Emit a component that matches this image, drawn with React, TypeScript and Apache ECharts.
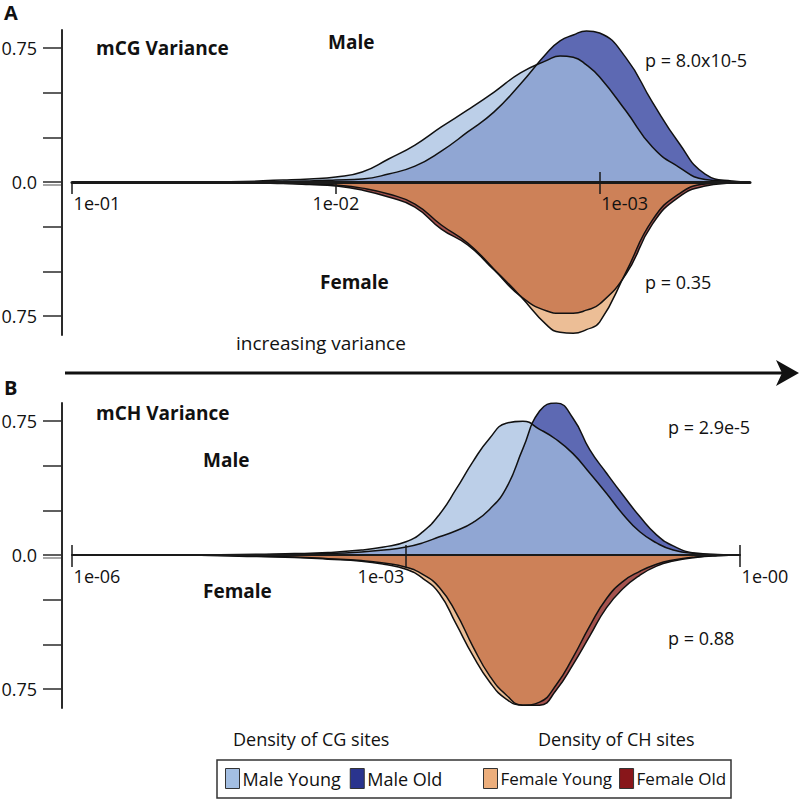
import React, { useEffect, useRef } from 'react';
import * as echarts from 'echarts';

const FONT = "'Open Sans', sans-serif";
const INK = '#111111';

// ---------- Panel A (mCG variance) : log10 of variance ----------
const logVarA = [-1.0, -1.3, -1.6, -1.8, -1.9, -2.0, -2.1, -2.2, -2.3, -2.4, -2.5, -2.6, -2.7, -2.8, -2.85, -2.9, -2.95, -3.0, -3.1, -3.2, -3.3, -3.4, -3.5, -3.57];
const maleYoungA = [0, 0, 0.002, 0.011, 0.017, 0.028, 0.056, 0.129, 0.207, 0.308, 0.403, 0.503, 0.61, 0.68, 0.705, 0.698, 0.655, 0.587, 0.397, 0.196, 0.084, 0.014, 0.003, 0];
const maleOldA = [0, 0, 0.001, 0.003, 0.006, 0.011, 0.017, 0.045, 0.089, 0.173, 0.28, 0.392, 0.548, 0.721, 0.789, 0.822, 0.845, 0.833, 0.694, 0.447, 0.22, 0.045, 0.006, 0];
const femaleYoungA = [0, 0, 0.001, 0.006, 0.011, 0.017, 0.034, 0.067, 0.123, 0.24, 0.341, 0.487, 0.638, 0.8, 0.84, 0.845, 0.825, 0.783, 0.503, 0.213, 0.067, 0.011, 0.003, 0];
const femaleOldA = [0, 0, 0.002, 0.008, 0.014, 0.022, 0.045, 0.084, 0.14, 0.263, 0.352, 0.492, 0.638, 0.721, 0.733, 0.733, 0.716, 0.682, 0.515, 0.235, 0.084, 0.022, 0.006, 0];

// ---------- Panel B (mCH variance) ----------
const logVarB = [-6, -5, -4.5, -4, -3.7, -3.4, -3.2, -3.0, -2.85, -2.7, -2.55, -2.4, -2.25, -2.1, -1.95, -1.8, -1.65, -1.5, -1.35, -1.2, -1.05, -0.9, -0.75, -0.6, -0.4, -0.2, 0];
const maleYoungB = [0, 0, 0.003, 0.008, 0.014, 0.028, 0.045, 0.074, 0.13, 0.227, 0.368, 0.521, 0.652, 0.737, 0.748, 0.703, 0.646, 0.567, 0.459, 0.346, 0.227, 0.13, 0.068, 0.028, 0.008, 0.002, 0];
const maleOldB = [0, 0, 0.001, 0.005, 0.008, 0.017, 0.028, 0.045, 0.068, 0.102, 0.136, 0.181, 0.255, 0.374, 0.595, 0.805, 0.85, 0.765, 0.589, 0.459, 0.334, 0.215, 0.113, 0.051, 0.011, 0.003, 0];
const femaleYoungB = [0, 0, 0.006, 0.014, 0.023, 0.034, 0.051, 0.079, 0.13, 0.215, 0.385, 0.561, 0.708, 0.805, 0.839, 0.822, 0.725, 0.572, 0.397, 0.244, 0.147, 0.091, 0.051, 0.028, 0.011, 0.003, 0];
const femaleOldB = [0, 0, 0.005, 0.011, 0.02, 0.031, 0.045, 0.068, 0.108, 0.181, 0.323, 0.51, 0.674, 0.782, 0.839, 0.839, 0.754, 0.612, 0.453, 0.295, 0.187, 0.113, 0.062, 0.034, 0.014, 0.004, 0];

// ---------- Ticks ----------
const xTicksA = [0.1, 0.01, 0.001];
const xTickLabelsA = ['{r|1e-01}', '{c|1e-02}', '{r|1e-03}'];
const xCrossTicksA = [0.001];
const xTicksB = [1e-6, 1e-3, 1];
const xTickLabelsB = ['{r|1e-06}', '{l|1e-03}', '{r|1e-00}'];
const yTicks = [-0.75, -0.5, -0.25, 0, 0.25, 0.5, 0.75];
const yTickLabels = ['0.75', '', '', '0.0', '', '', '0.75'];

const SERIES_NAMES = ['Male Young', 'Male Old', 'Female Young', 'Female Old'];
const FILL = {
  maleYoung: 'rgb(163,189,223)',
  maleOld: 'rgb(93,105,179)',
  femaleYoung: 'rgb(226,155,94)',
  femaleOld: 'rgb(165,82,78)',
};
const LEGEND_FILL = ['rgb(163,190,226)', 'rgb(42,52,142)', 'rgb(236,174,124)', 'rgb(136,22,26)'];

const Y_MIN = -0.855;
const Y_MAX = 0.85;
const GRID_H = 305;
// distance from the grid's bottom edge up to the zero line
const ZERO_OFFSET = Math.round((GRID_H * -Y_MIN) / (Y_MAX - Y_MIN));

function density(name: string, xs: number[], ys: number[], sign: number, color: string, opacity: number, axisIdx: number) {
  return {
    type: 'line',
    name,
    xAxisIndex: axisIdx,
    yAxisIndex: axisIdx,
    data: xs.map((e, i) => [Math.pow(10, e), sign * ys[i]]),
    smooth: 0.5,
    symbol: 'none',
    showSymbol: false,
    silent: true,
    lineStyle: { color: '#111', width: 1.5 },
    itemStyle: { color },
    areaStyle: { color, opacity },
  };
}

function labelMapper(ticks: number[], labels: string[]) {
  return (v: number) => {
    const i = ticks.findIndex((t) => Math.abs(Math.log10(t) - Math.log10(v)) < 1e-6);
    return i >= 0 ? labels[i] : '';
  };
}

const yFormatter = (v: number) => {
  const i = yTicks.findIndex((t) => Math.abs(t - v) < 1e-9);
  return i >= 0 ? yTickLabels[i] : '';
};

const tickRich = {
  r: { padding: [0, 0, 0, 50], fontSize: 18, fontFamily: FONT, color: INK },
  l: { padding: [0, 50, 0, 0], fontSize: 18, fontFamily: FONT, color: INK },
  c: { fontSize: 18, fontFamily: FONT, color: INK },
};

function mainX(grid: number, min: number, max: number, inverse: boolean, ticks: number[], labels: string[], lw: number) {
  return {
    gridIndex: grid,
    type: 'log',
    logBase: 10,
    min,
    max,
    inverse,
    position: 'bottom',
    offset: -ZERO_OFFSET,
    z: 10,
    axisLine: { show: true, onZero: false, lineStyle: { color: '#1a1a1a', width: lw } },
    axisTick: { show: true, customValues: ticks, length: 12, lineStyle: { color: '#1a1a1a', width: 1.5 } },
    axisLabel: { show: true, customValues: ticks, formatter: labelMapper(ticks, labels), margin: 12, rich: tickRich, fontSize: 18, fontFamily: FONT, color: INK },
    splitLine: { show: false },
    minorTick: { show: false },
  };
}

function crossX(grid: number, min: number, max: number, inverse: boolean, ticks: number[]) {
  return {
    gridIndex: grid,
    type: 'log',
    logBase: 10,
    min,
    max,
    inverse,
    position: 'top',
    z: 10,
    axisLine: { show: false, onZero: true },
    axisTick: { show: true, customValues: ticks, length: 10, lineStyle: { color: '#1a1a1a', width: 1.5 } },
    axisLabel: { show: false },
    splitLine: { show: false },
  };
}

function mainY(grid: number) {
  return {
    gridIndex: grid,
    type: 'value',
    min: Y_MIN,
    max: Y_MAX,
    offset: 10,
    position: 'left',
    axisLine: { show: true, onZero: false, lineStyle: { color: '#2a2a2a', width: 2 } },
    axisTick: { show: true, customValues: yTicks, length: 19, lineStyle: { color: '#2a2a2a', width: 1.5 } },
    axisLabel: { show: true, customValues: yTicks, formatter: yFormatter, margin: 25, fontSize: 18, fontFamily: FONT, color: INK },
    splitLine: { show: false },
  };
}

function hiddenY(grid: number) {
  return { gridIndex: grid, type: 'value', min: Y_MIN, max: Y_MAX, show: false, position: 'right', splitLine: { show: false } };
}

function txt(text: string, x: number, y: number, size: number, bold = false) {
  return {
    type: 'text',
    x,
    y,
    silent: true,
    style: { text, fontSize: size, fontWeight: bold ? 'bold' : 'normal', fontFamily: FONT, fill: INK, align: 'left', verticalAlign: 'middle' },
  };
}

export default function App() {
  const ref = useRef<HTMLDivElement>(null);
  useEffect(() => {
    document.body.style.margin = '0';
    const chart = echarts.init(ref.current!, null, { renderer: 'svg' });
    const minA = Math.pow(10, -3.57);
    const option: any = {
      animation: false,
      backgroundColor: '#ffffff',
      grid: [
        { left: 72, right: 50, top: 30, height: GRID_H, outerBoundsMode: 'none' },
        { left: 72, right: 60, top: 403, height: GRID_H, outerBoundsMode: 'none' },
      ],
      xAxis: [
        mainX(0, minA, 0.1, true, xTicksA, xTickLabelsA, 3),
        crossX(0, minA, 0.1, true, xCrossTicksA),
        mainX(1, 1e-6, 1, false, xTicksB, xTickLabelsB, 2),
        crossX(1, 1e-6, 1, false, xTicksB),
      ],
      yAxis: [mainY(0), hiddenY(0), mainY(1), hiddenY(1)],
      legend: [
        {
          left: 225, top: 768, padding: 0, itemWidth: 14, itemHeight: 20, itemGap: 9, icon: 'rect', selectedMode: false,
          textStyle: { fontSize: 18, fontFamily: FONT, color: INK, padding: [0, 0, 0, -2] },
          data: [
            { name: SERIES_NAMES[0], itemStyle: { color: LEGEND_FILL[0], borderColor: '#333', borderWidth: 1 } },
            { name: SERIES_NAMES[1], itemStyle: { color: LEGEND_FILL[1], borderColor: '#333', borderWidth: 1 } },
          ],
        },
        {
          left: 483, top: 768, padding: 0, itemWidth: 14, itemHeight: 20, itemGap: 7, icon: 'rect', selectedMode: false,
          textStyle: { fontSize: 17, fontFamily: FONT, color: INK, padding: [0, 0, 0, -2] },
          data: [
            { name: SERIES_NAMES[2], itemStyle: { color: LEGEND_FILL[2], borderColor: '#333', borderWidth: 1 } },
            { name: SERIES_NAMES[3], itemStyle: { color: LEGEND_FILL[3], borderColor: '#333', borderWidth: 1 } },
          ],
        },
      ],
      series: [
        density(SERIES_NAMES[1], logVarA, maleOldA, 1, FILL.maleOld, 1, 0),
        density(SERIES_NAMES[0], logVarA, maleYoungA, 1, FILL.maleYoung, 0.73, 0),
        density(SERIES_NAMES[3], logVarA, femaleOldA, -1, FILL.femaleOld, 1, 0),
        density(SERIES_NAMES[2], logVarA, femaleYoungA, -1, FILL.femaleYoung, 0.65, 0),
        density(SERIES_NAMES[1], logVarB, maleOldB, 1, FILL.maleOld, 1, 2),
        density(SERIES_NAMES[0], logVarB, maleYoungB, 1, FILL.maleYoung, 0.73, 2),
        density(SERIES_NAMES[3], logVarB, femaleOldB, -1, FILL.femaleOld, 1, 2),
        density(SERIES_NAMES[2], logVarB, femaleYoungB, -1, FILL.femaleYoung, 0.65, 2),
      ].map((s, i) => ({ ...s, yAxisIndex: i < 4 ? 0 : 2, xAxisIndex: i < 4 ? 0 : 2 })),
      graphic: [
        txt('A', 4, 12, 20, true),
        txt('B', 4, 387, 20, true),
        txt('mCG Variance', 96, 48, 19, true),
        txt('Male', 328, 42, 19, true),
        txt('Female', 320, 282, 19, true),
        txt('p = 8.0x10-5', 645, 60, 18),
        txt('p = 0.35', 645, 282, 18),
        txt('increasing variance', 236, 343, 19),
        txt('mCH Variance', 96, 413, 19, true),
        txt('Male', 203, 460, 19, true),
        txt('Female', 203, 591, 19, true),
        txt('p = 2.9e-5', 668, 427, 18),
        txt('p = 0.88', 668, 638, 18),
        txt('Density of CG sites', 233, 739, 18),
        txt('Density of CH sites', 538, 739, 18),
        { type: 'line', silent: true, shape: { x1: 65, y1: 373, x2: 784, y2: 373 }, style: { stroke: INK, lineWidth: 3 } },
        { type: 'polygon', silent: true, shape: { points: [[776, 360], [799, 373], [776, 386], [782, 373]] }, style: { fill: INK } },
        { type: 'rect', silent: true, shape: { x: 217, y: 760, width: 514, height: 38 }, style: { fill: 'none', stroke: '#333', lineWidth: 1.5 } },
        { type: 'line', silent: true, shape: { x1: 43, y1: 185, x2: 62, y2: 185 }, style: { stroke: '#888', lineWidth: 1.5 } },
        { type: 'line', silent: true, shape: { x1: 43, y1: 558, x2: 62, y2: 558 }, style: { stroke: '#888', lineWidth: 1.5 } },
      ],
    };
    chart.setOption(option);
    return () => chart.dispose();
  }, []);
  return <div ref={ref} style={{ position: 'fixed', left: 0, top: 0, width: 800, height: 800 }} />;
}
